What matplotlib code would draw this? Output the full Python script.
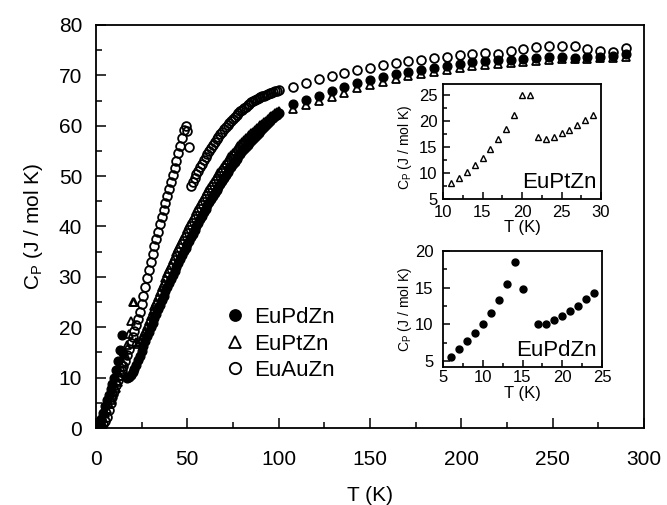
import matplotlib
matplotlib.use('Agg')
import matplotlib.pyplot as plt
from matplotlib.ticker import MultipleLocator

plt.rcParams['font.family'] = ['Liberation Sans', 'DejaVu Sans']
plt.rcParams['mathtext.fontset'] = 'custom'
plt.rcParams['mathtext.rm'] = 'Liberation Sans'
plt.rcParams['mathtext.it'] = 'Liberation Sans'

# EuPdZn, dense run 2-100 K (no point at 16 K)
pd_T = [2, 3, 4, 5, 6, 7, 8, 9, 10, 11, 12, 13, 14, 15, 17, 18, 19, 20, 21, 22, 23, 24,
        25, 26, 27, 28, 29, 30, 31, 32, 33, 34, 35, 36, 37, 38, 39, 40, 41, 42, 43, 44,
        45, 46, 47, 48, 49, 50, 51, 52, 53, 54, 55, 56, 57, 58, 59, 60, 61, 62, 63, 64,
        65, 66, 67, 68, 69, 70, 71, 72, 73, 74, 75, 76, 77, 78, 79, 80, 81, 82, 83, 84,
        85, 86, 87, 88, 89, 90, 91, 92, 93, 94, 95, 96, 97, 98, 99, 100]
pd_C = [0.8, 1.8, 3.0, 4.3, 5.6, 6.6, 7.7, 8.8, 10.0, 11.5, 13.3, 15.5, 18.5, 14.8, 10.0, 10.1, 10.6, 11.2, 11.8, 12.5, 13.4, 14.3,
        15.3, 16.2, 17.2, 18.2, 19.1, 20.0, 20.9, 21.8, 22.7, 23.6, 24.5, 25.4, 26.3, 27.2, 28.0, 28.8, 29.6, 30.4, 31.2, 32.0,
        32.8, 33.6, 34.4, 35.1, 35.8, 36.5, 37.2, 37.9, 38.6, 39.3, 40.0, 40.7, 41.4, 42.1, 42.8, 43.5, 44.2, 44.9, 45.5, 46.1,
        46.7, 47.3, 47.9, 48.5, 49.1, 49.7, 50.3, 50.9, 51.4, 51.9, 52.4, 52.9, 53.4, 53.9, 54.4, 54.9, 55.3, 55.7, 56.1, 56.5,
        56.9, 57.3, 57.7, 58.1, 58.5, 58.9, 59.3, 59.7, 60.1, 60.5, 60.9, 61.3, 61.6, 61.9, 62.2, 62.5]

# EuPtZn, dense run 2-100 K
pt_T = list(range(2, 101))
pt_C = [0.5, 1.2, 2.0, 2.9, 3.8, 4.7, 5.6, 6.5, 7.2, 8.0, 9.1, 10.3, 11.6, 13.0, 14.7, 16.5, 18.6, 21.3, 25.0, 25.0,
        17.0, 16.6, 17.0, 17.7, 18.4, 19.3, 20.3, 21.2, 22.2, 23.2, 24.2, 25.1, 26.1, 27.0, 27.9, 28.8, 29.8, 30.7, 31.6,
        32.4, 33.3, 34.1, 35.0, 35.8, 36.6, 37.4, 38.1, 38.8, 39.5, 40.2, 40.9, 41.6, 42.3, 43.0, 43.7, 44.4, 45.1, 45.8,
        46.5, 47.1, 47.7, 48.3, 48.9, 49.5, 50.0, 50.6, 51.1, 51.7, 52.2, 52.7, 53.2, 53.7, 54.2, 54.6, 55.0, 55.5, 55.9,
        56.4, 56.8, 57.1, 57.5, 57.8, 58.2, 58.5, 58.8, 59.2, 59.5, 59.8, 60.1, 60.4, 60.7, 61.0, 61.4, 61.7, 62.0, 62.2,
        62.5, 62.7, 62.9]

# EuAuZn, low-T run 2-51 K and second run 52-100 K
au_T1 = list(range(2, 52))
au_C1 = [0.1, 0.3, 0.7, 1.3, 2.2, 3.5, 4.9, 6.2, 7.4, 8.5, 9.5, 10.5, 11.4, 12.3, 13.3, 14.5, 15.7, 16.9, 18.1,
         19.3, 20.5, 21.7, 23.0, 24.6, 26.3, 28.0, 29.7, 31.4, 33.0, 34.6, 36.1, 37.6, 39.0, 40.4, 41.8, 43.2, 44.6,
         46.0, 47.4, 48.8, 50.2, 51.6, 53.0, 54.5, 56.0, 57.6, 59.2, 59.9, 59.0, 55.8]
au_T2 = list(range(52, 101))
au_C2 = [48.0, 48.8, 49.6, 50.4, 51.1, 51.8, 52.5, 53.2, 53.8, 54.4, 55.0, 55.6, 56.2, 56.8, 57.3, 57.8, 58.3,
         58.8, 59.3, 59.8, 60.2, 60.6, 61.0, 61.4, 61.8, 62.2, 62.5, 62.9, 63.2, 63.5, 63.8, 64.1, 64.4, 64.7,
         64.9, 65.1, 65.3, 65.5, 65.7, 65.9, 66.0, 66.2, 66.3, 66.5, 66.6, 66.7, 66.8, 66.9, 67.0]

# sparse high-T points, 108-290 K
hi_T = [108, 115, 122, 129, 136, 143, 150, 157, 164, 171, 178, 185, 192, 199,
        206, 213, 220, 227, 234, 241, 248, 255, 262, 269, 276, 283, 290]
pd_hi = [64.3, 65.1, 66.0, 66.8, 67.6, 68.4, 69.1, 69.7, 70.3, 70.7, 71.1, 71.5, 71.9, 72.3,
         72.6, 72.8, 73.0, 73.1, 73.3, 73.4, 73.6, 73.6, 73.5, 73.6, 73.7, 73.8, 74.2]
pt_hi = [63.3, 64.1, 65.0, 65.8, 66.6, 67.4, 68.1, 68.7, 69.3, 69.8, 70.2, 70.6, 71.0, 71.4,
         71.8, 72.1, 72.3, 72.5, 72.7, 72.9, 73.1, 73.2, 73.2, 73.3, 73.4, 73.5, 73.7]
au_hi = [67.7, 68.5, 69.2, 69.9, 70.5, 71.0, 71.5, 72.0, 72.4, 72.8, 73.1, 73.4, 73.7, 74.0,
         74.2, 74.4, 74.3, 74.8, 75.3, 75.6, 75.9, 75.9, 75.8, 75.3, 74.8, 74.6, 75.4]

W, H = 667, 505
fig = plt.figure(figsize=(W / 100, H / 100), dpi=100)


def box(l, t, r, b):
    return [l / W, 1 - b / H, (r - l) / W, (b - t) / H]


def style(a, fs, pad, major=7, minor=4):
    a.tick_params(which='both', direction='in', top=False, right=False, width=1.1,
                  labelsize=fs, pad=pad)
    a.tick_params(which='major', length=major)
    a.tick_params(which='minor', length=minor)
    for s in a.spines.values():
        s.set_linewidth(1.3)


ylab = r'C$_\mathregular{P}$ (J / mol K)'

ax = fig.add_axes(box(96, 25, 644, 428))
ms = 6.3
ax.plot(pt_T + hi_T, pt_C + pt_hi, ls='none', marker='^', ms=ms, mfc='none',
        mec='black', mew=1.3, zorder=2, label='EuPtZn')
ax.plot(pd_T + hi_T, pd_C + pd_hi, ls='none', marker='o', ms=ms, mfc='black',
        mec='black', zorder=3, label='EuPdZn')
ax.plot(au_T1 + au_T2 + hi_T, au_C1 + au_C2 + au_hi, ls='none', marker='o', ms=ms,
        mfc='none', mec='black', mew=1.3, zorder=4, label='EuAuZn')
ax.set_xlim(0, 300)
ax.set_ylim(0, 80)
ax.xaxis.set_major_locator(MultipleLocator(50))
ax.xaxis.set_minor_locator(MultipleLocator(25))
ax.yaxis.set_major_locator(MultipleLocator(10))
ax.yaxis.set_minor_locator(MultipleLocator(5))
style(ax, 15, 10)
ax.tick_params(axis='x', pad=16)
ax.set_xlabel('T (K)', fontsize=15, labelpad=12)
ax.set_ylabel(ylab, fontsize=15, labelpad=10)

h, l = ax.get_legend_handles_labels()
order = [1, 0, 2]
ax.legend([h[i] for i in order], [l[i] for i in order], loc='center left',
          bbox_to_anchor=(0.218, 0.208), frameon=False, fontsize=16,
          handlelength=0.8, handletextpad=0.45, labelspacing=0.25, borderpad=0,
          markerscale=1.3)

# inset: EuPtZn
ia = fig.add_axes(box(443, 84, 601, 199))
sel = [i for i, t in enumerate(pt_T) if 11 <= t <= 29]
ia.plot([pt_T[i] for i in sel], [pt_C[i] for i in sel], ls='none', marker='^', ms=5,
        mfc='white', mec='black', mew=1.0)
ia.set_xlim(10, 30)
ia.set_ylim(5, 27.2)
ia.xaxis.set_major_locator(MultipleLocator(5))
ia.xaxis.set_minor_locator(MultipleLocator(2.5))
ia.yaxis.set_major_locator(MultipleLocator(5))
ia.yaxis.set_minor_locator(MultipleLocator(2.5))
style(ia, 12, 4, major=5, minor=3)
ia.tick_params(axis='x', pad=4)
ia.set_xlabel('T (K)', fontsize=12, labelpad=0)
ia.set_ylabel(ylab, fontsize=10)
ia.yaxis.set_label_coords(-0.185, 0.45)
ia.text(0.97, 0.05, 'EuPtZn', transform=ia.transAxes, ha='right', va='bottom', fontsize=16)

# inset: EuPdZn
ib = fig.add_axes(box(443, 251, 602, 367))
sel = [i for i, t in enumerate(pd_T) if 6 <= t <= 24]
ib.plot([pd_T[i] for i in sel], [pd_C[i] for i in sel], ls='none', marker='o', ms=5,
        mfc='black', mec='black')
ib.set_xlim(5, 25)
ib.set_ylim(4.2, 20)
ib.xaxis.set_major_locator(MultipleLocator(5))
ib.xaxis.set_minor_locator(MultipleLocator(2.5))
ib.yaxis.set_major_locator(MultipleLocator(5))
ib.yaxis.set_minor_locator(MultipleLocator(2.5))
style(ib, 12, 7, major=5, minor=3)
ib.tick_params(axis='x', pad=2)
ib.set_xlabel('T (K)', fontsize=12, labelpad=1)
ib.set_ylabel(ylab, fontsize=10)
ib.yaxis.set_label_coords(-0.185, 0.5)
ib.text(0.97, 0.05, 'EuPdZn', transform=ib.transAxes, ha='right', va='bottom', fontsize=16)

fig.savefig('out.png', dpi=100)
